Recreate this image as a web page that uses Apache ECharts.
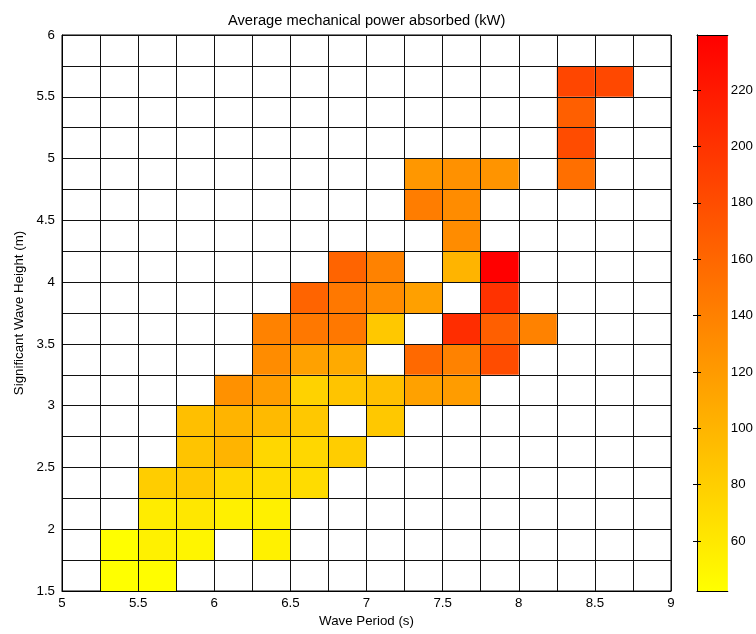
<!DOCTYPE html>
<html><head><meta charset="utf-8">
<script src="https://cdn.jsdelivr.net/npm/echarts@6/dist/echarts.min.js"></script>
<style>html,body{margin:0;padding:0;background:#fff}#c{width:756px;height:634px}</style>
</head><body><div id="c"></div>
<script>
// Cell centres (bins are 0.25 wide)
const periods = [5.125, 5.375, 5.625, 5.875, 6.125, 6.375, 6.625, 6.875, 7.125, 7.375, 7.625, 7.875, 8.125, 8.375, 8.625, 8.875];
const heights = [1.625, 1.875, 2.125, 2.375, 2.625, 2.875, 3.125, 3.375, 3.625, 3.875, 4.125, 4.375, 4.625, 4.875, 5.125, 5.375, 5.625, 5.875];
const _ = null;
// Average mechanical power absorbed (kW), one row per height bin (bottom first), one column per period bin
const powerRows = [
  [_, 42.3, 44, _, _, _, _, _, _, _, _, _, _, _, _, _],
  [_, 43, 53, 50, _, 53, _, _, _, _, _, _, _, _, _, _],
  [_, _, 57, 61, 54, 54, _, _, _, _, _, _, _, _, _, _],
  [_, _, 81, 85, 73, 69, 69, _, _, _, _, _, _, _, _, _],
  [_, _, _, 88, 100, 73, 73, 81, _, _, _, _, _, _, _, _],
  [_, _, _, 92, 100, 96, 85, _, 85, _, _, _, _, _, _, _],
  [_, _, _, _, 127, 119, 77, 88, 92, 115, 119, _, _, _, _, _],
  [_, _, _, _, _, 131, 115, 108, _, 158, 139, 181, _, _, _, _],
  [_, _, _, _, _, 139, 147, 147, 85, _, 205, 166, 139, _, _, _],
  [_, _, _, _, _, _, 162, 147, 131, 116, _, 201, _, _, _, _],
  [_, _, _, _, _, _, _, 162, 139, _, 100, 239.5, _, _, _, _],
  [_, _, _, _, _, _, _, _, _, _, 131, _, _, _, _, _],
  [_, _, _, _, _, _, _, _, _, 143, 131, _, _, _, _, _],
  [_, _, _, _, _, _, _, _, _, 123, 127, 125, _, 154, _, _],
  [_, _, _, _, _, _, _, _, _, _, _, _, _, 181, _, _],
  [_, _, _, _, _, _, _, _, _, _, _, _, _, 166, _, _],
  [_, _, _, _, _, _, _, _, _, _, _, _, _, 185, 184, _],
  [_, _, _, _, _, _, _, _, _, _, _, _, _, _, _, _]
];
const colorMin = 42.3;
const colorMax = 239.5;
const xTicks = [5, 9, 0.5];
const yTicks = [1.5, 6, 0.5];

const FONT = "'Liberation Sans', Arial, sans-serif";
const cells = [];
powerRows.forEach((row, r) => row.forEach((v, c) => {
  if (v !== null) cells.push([periods[c], heights[r], v]);
}));
const halfW = (periods[1] - periods[0]) / 2;
const halfH = (heights[1] - heights[0]) / 2;

const axisCommon = {
  axisLine: { show: true, lineStyle: { color: '#000', width: 1 } },
  axisTick: { show: false },
  splitLine: { show: true, lineStyle: { color: '#111', width: 1 } },
  minorTick: { show: false, splitNumber: 2 },
  minorSplitLine: { show: true, lineStyle: { color: '#111', width: 1 } },
  nameLocation: 'middle',
  nameTextStyle: { color: '#000', fontSize: 13.3, fontFamily: FONT },
  z: 10
};
const cbAxisHidden = {
  axisLine: { show: true, lineStyle: { color: '#000', width: 1 } },
  axisTick: { show: false }, axisLabel: { show: false }, splitLine: { show: false }, z: 10
};

const chart = echarts.init(document.getElementById('c'), null, { renderer: 'canvas' });
chart.setOption({
  animation: false,
  backgroundColor: '#fff',
  title: {
    text: 'Average mechanical power absorbed (kW)',
    left: 223, top: 8,
    textStyle: { color: '#000', fontSize: 14.7, fontWeight: 'normal', fontFamily: FONT }
  },
  grid: [
    { left: 62, top: 35, width: 609, height: 556, show: true, backgroundColor: '#fff', borderColor: '#000', borderWidth: 1 },
    { left: 697, top: 35, width: 32, height: 556 }
  ],
  visualMap: {
    type: 'continuous', show: false, seriesIndex: 0, dimension: 2,
    min: colorMin, max: colorMax,
    inRange: { color: ['#ffff00', '#ff0000'] }
  },
  xAxis: [
    Object.assign({}, axisCommon, {
      gridIndex: 0, type: 'value', min: xTicks[0], max: xTicks[1], interval: xTicks[2],
      axisLabel: { color: '#000', fontSize: 13.3, fontFamily: FONT, margin: 6 },
      name: 'Wave Period (s)', nameGap: 24
    }),
    Object.assign({}, cbAxisHidden, { gridIndex: 1, type: 'value', min: 0, max: 1, position: 'bottom' }),
    Object.assign({}, cbAxisHidden, { gridIndex: 1, type: 'value', min: 0, max: 1, position: 'top' })
  ],
  yAxis: [
    Object.assign({}, axisCommon, {
      gridIndex: 0, type: 'value', min: yTicks[0], max: yTicks[1], interval: yTicks[2],
      axisLabel: { color: '#000', fontSize: 13.3, fontFamily: FONT, margin: 7 },
      name: 'Significant Wave Height (m)', nameGap: 35
    }),
    {
      gridIndex: 1, type: 'value', min: colorMin, max: colorMax, splitNumber: 10, position: 'left',
      axisLine: { show: true, lineStyle: { color: '#000', width: 1 } },
      axisTick: { show: true, inside: true, length: 4, lineStyle: { color: '#000' } },
      axisLabel: { show: false }, splitLine: { show: false }, z: 10
    },
    {
      gridIndex: 1, type: 'value', min: colorMin, max: colorMax, splitNumber: 10, position: 'right',
      axisLine: { show: true, lineStyle: { color: '#000', width: 1 } },
      axisTick: { show: true, inside: true, length: 4, lineStyle: { color: '#000' } },
      axisLabel: { show: true, color: '#000', fontSize: 13.3, fontFamily: FONT, margin: 3, showMinLabel: false, showMaxLabel: false },
      splitLine: { show: false }, z: 10
    }
  ],
  series: [
    {
      type: 'custom', xAxisIndex: 0, yAxisIndex: 0, data: cells, encode: { x: 0, y: 1 },
      renderItem: function (params, api) {
        const x = api.value(0), y = api.value(1);
        const p0 = api.coord([x - halfW, y - halfH]);
        const p1 = api.coord([x + halfW, y + halfH]);
        return {
          type: 'rect',
          shape: { x: p0[0], y: p1[1], width: p1[0] - p0[0], height: p0[1] - p1[1] },
          style: { fill: api.visual('color') }
        };
      }
    },
    {
      type: 'custom', xAxisIndex: 1, yAxisIndex: 1, data: [[0, colorMin, 1, colorMax]],
      encode: { x: [0, 2], y: [1, 3] },
      renderItem: function (params, api) {
        const p0 = api.coord([api.value(0), api.value(1)]);
        const p1 = api.coord([api.value(2), api.value(3)]);
        return {
          type: 'rect',
          shape: { x: p0[0], y: p1[1], width: p1[0] - p0[0], height: p0[1] - p1[1] },
          style: {
            fill: new echarts.graphic.LinearGradient(0, 0, 0, 1, [
              { offset: 0, color: '#ff0000' }, { offset: 1, color: '#ffff00' }
            ])
          }
        };
      }
    }
  ]
});
</script></body></html>
